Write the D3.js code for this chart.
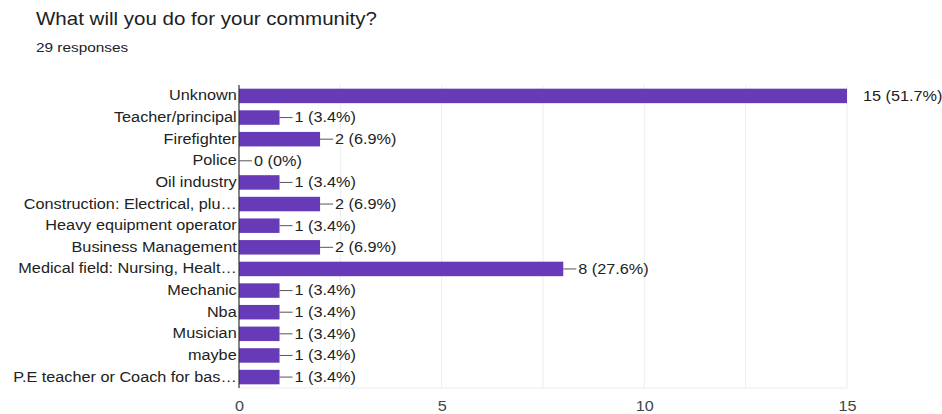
<!DOCTYPE html>
<html>
<head>
<meta charset="utf-8">
<style>
  body { margin: 0; background: #fff; font-family: Arial, "Liberation Sans", sans-serif; }
</style>
</head>
<body>
<svg id="chart" width="942" height="414"></svg>
<script src="https://d3js.org/d3.v7.min.js"></script>
<script>
// Survey answers, counts, and percent labels
const categories = [
  'Unknown', 'Teacher/principal', 'Firefighter', 'Police', 'Oil industry',
  'Construction: Electrical, plu…', 'Heavy equipment operator', 'Business Management',
  'Medical field: Nursing, Healt…', 'Mechanic', 'Nba', 'Musician', 'maybe',
  'P.E teacher or Coach for bas…'
]
const counts = [15, 1, 2, 0, 1, 2, 1, 2, 8, 1, 1, 1, 1, 1]
const percents = ['51.7%', '3.4%', '6.9%', '0%', '3.4%', '6.9%', '3.4%', '6.9%', '27.6%', '3.4%', '3.4%', '3.4%', '3.4%', '3.4%']
const xTicks = [0, 5, 10, 15]
const gridTicks = [0, 2.5, 5, 7.5, 10, 12.5, 15]

const font = 'Arial, "Liberation Sans", sans-serif'
const sx = 1.16 // the screenshot text is a bit wide

const svg = d3.select('#chart')

svg.append('text')
  .attr('transform', 'translate(36,25) scale(1.14,1)')
  .attr('font-size', 18).attr('fill', '#202124')
  .text('What will you do for your community?')

svg.append('text')
  .attr('transform', 'translate(36,52) scale(1.28,1)')
  .attr('font-size', 12).attr('fill', '#202124')
  .text('29 responses')

const margin = { left: 239, right: 95, top: 85, bottom: 388 }

const x = d3.scaleLinear().domain([0, 15]).range([margin.left, 942 - margin.right])
const y = d3.scaleBand().domain(categories).range([margin.top, margin.bottom]).paddingInner(0.33).paddingOuter(0.17)

// grid
svg.append('g').selectAll('line')
  .data(gridTicks.slice(1))
  .enter().append('line')
  .attr('x1', d => x(d)).attr('x2', d => x(d))
  .attr('y1', margin.top).attr('y2', margin.bottom)
  .attr('stroke', '#ececec').attr('stroke-width', 1)

svg.append('line')
  .attr('x1', margin.left).attr('x2', x(15))
  .attr('y1', margin.bottom).attr('y2', margin.bottom)
  .attr('stroke', '#ececec')

// x axis labels
const xAxis = d3.axisBottom(x).tickValues(xTicks).tickSize(0).tickPadding(13)
const gx = svg.append('g').attr('transform', `translate(0,${margin.bottom})`).call(xAxis)
gx.select('.domain').remove()
gx.selectAll('text')
  .attr('font-size', 14).attr('fill', '#444').attr('font-family', font)
  .attr('transform', `scale(${sx},1)`)

// bars
svg.append('g').selectAll('rect')
  .data(counts)
  .enter().append('rect')
  .attr('x', x(0))
  .attr('y', (d, i) => y(categories[i]))
  .attr('width', d => x(d) - x(0))
  .attr('height', y.bandwidth())
  .attr('fill', '#673ab7')

// y axis
const yAxis = d3.axisLeft(y).tickSize(0).tickPadding(2)
const gy = svg.append('g').attr('transform', `translate(${margin.left},0)`).call(yAxis)
gy.select('.domain').attr('stroke', '#333').attr('stroke-width', 1.2)
  .attr('d', `M0,${margin.top}V${margin.bottom}`)
gy.selectAll('text')
  .attr('font-size', 14).attr('fill', '#222').attr('font-family', font)
  .attr('transform', `scale(${sx},1)`)

// value labels
const labels = svg.append('g')
counts.forEach((d, i) => {
  const cy = y(categories[i]) + y.bandwidth() / 2
  const big = d === d3.max(counts)
  if (!big) {
    labels.append('line')
      .attr('x1', x(d)).attr('x2', x(d) + 13)
      .attr('y1', cy).attr('y2', cy)
      .attr('stroke', '#555').attr('stroke-width', 1)
  }
  const tx = big ? x(d) + 16 : x(d) + 15
  labels.append('text')
    .attr('transform', `translate(${tx},${cy}) scale(${sx},1)`)
    .attr('dy', '0.35em')
    .attr('font-size', 14).attr('fill', '#222')
    .text(`${d} (${percents[i]})`)
})
</script>
</body>
</html>
